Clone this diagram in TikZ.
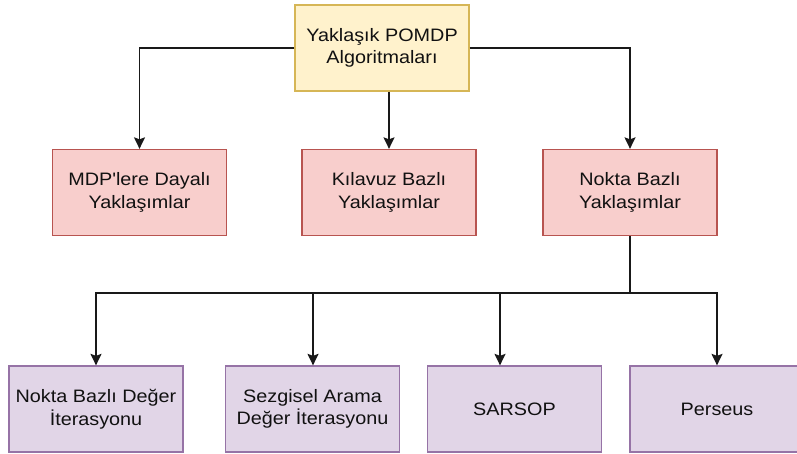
\documentclass[tikz,border=0pt]{standalone}
\usepackage{fontspec}
\newfontfamily\boxfont{Liberation Sans}[FakeStretch=1.1]
\usetikzlibrary{arrows.meta}
\definecolor{yfill}{HTML}{FFF2CC}
\definecolor{ydraw}{HTML}{D6B656}
\definecolor{rfill}{HTML}{F8CECC}
\definecolor{rdraw}{HTML}{B85450}
\definecolor{pfill}{HTML}{E1D5E7}
\definecolor{pdraw}{HTML}{9673A6}
\definecolor{txt}{HTML}{111111}
\tikzset{
  box/.style={rectangle, minimum width=174pt, minimum height=86pt, inner sep=0pt,
    line width=1.3pt, align=center, text=txt,
    font=\boxfont\fontsize{18pt}{22.5pt}\selectfont},
  rootbox/.style={box, fill=yfill, draw=ydraw},
  midbox/.style={box, fill=rfill, draw=rdraw},
  leafbox/.style={box, fill=pfill, draw=pdraw},
  link/.style={line width=1.4pt, draw=black!90},
  arr/.style={link, -{Stealth[length=11.5pt,width=11pt,inset=2pt]}}
}
\begin{document}
\begin{tikzpicture}[x=1pt,y=-1pt]
  \useasboundingbox (0,0) rectangle (797,454);

  % root
  \node[rootbox] (root) at (382,48) {Yaklaşık POMDP\\Algoritmaları};

  % approach families
  \node[midbox] (mdp)   at (139.5,192.5) {MDP'lere Dayalı\\Yaklaşımlar};
  \node[midbox] (guide) at (389,192.5)   {Kılavuz Bazlı\\Yaklaşımlar};
  \node[midbox] (point) at (630,192.5)   {Nokta Bazlı\\Yaklaşımlar};

  % point-based algorithms
  \node[leafbox] (pbvi)    at (96,409)    {Nokta Bazlı Değer\\İterasyonu};
  \node[leafbox] (hsvi)    at (312.5,409) {Sezgisel Arama\\Değer İterasyonu};
  \node[leafbox] (sarsop)  at (514.5,409) {SARSOP};
  \node[leafbox] (perseus) at (717,409)   {Perseus};

  % root to families
  \draw[arr] (root.west) -| (mdp.north);
  \draw[arr] (guide.north |- root.south) -- (guide.north);
  \draw[arr] (root.east) -| (point.north);

  % families to algorithms
  \coordinate (bus) at (630,293);
  \draw[link] (point.south) -- (bus);
  \draw[arr] (bus) -| (pbvi.north);
  \draw[arr] (bus) -| ([xshift=0.5pt]hsvi.north);
  \draw[arr] (bus) -| ([xshift=-14.5pt]sarsop.north);
  \draw[arr] (bus) -| (perseus.north);
\end{tikzpicture}
\end{document}
